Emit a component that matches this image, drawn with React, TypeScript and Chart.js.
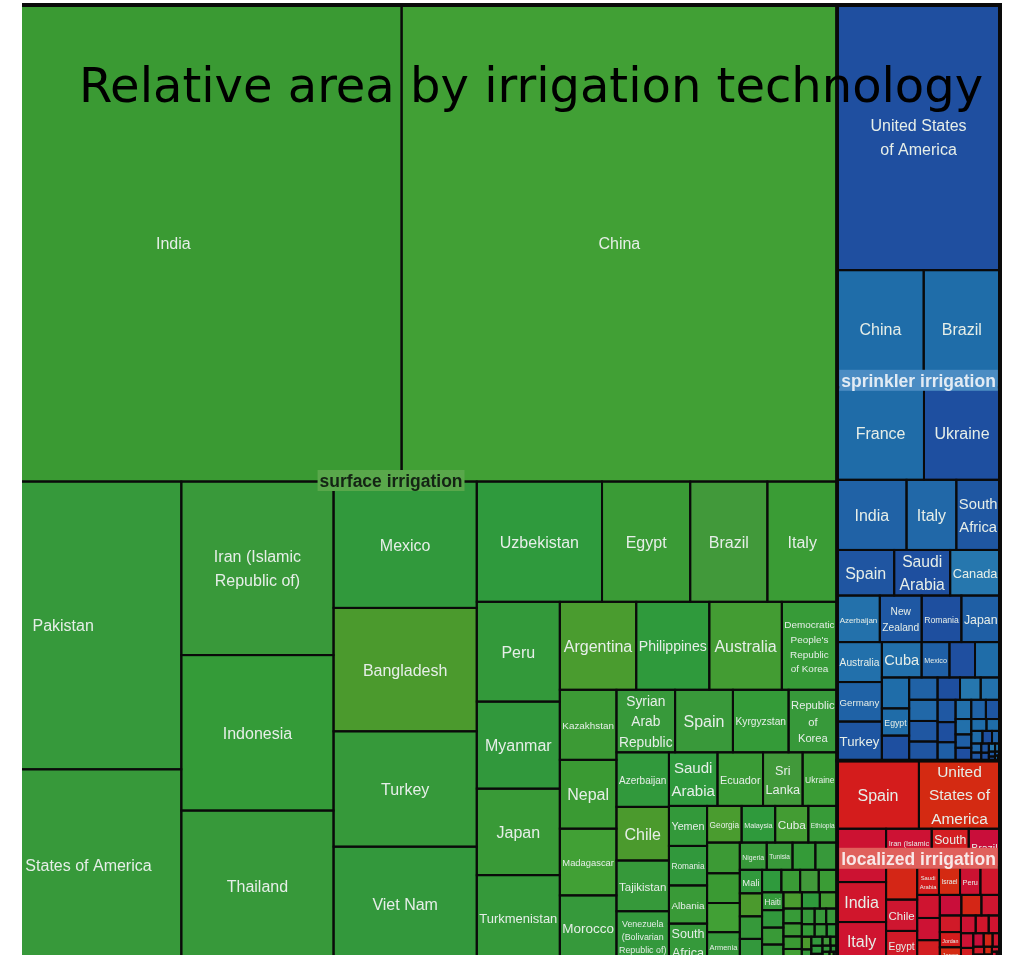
import React, { useEffect, useRef } from 'react';
import { Chart, registerables } from 'chart.js';

Chart.register(...registerables);

// ---------------- DATA ----------------
const groupNames = ['surface irrigation', 'sprinkler irrigation', 'localized irrigation'];

const surfaceCountries = [
  'India', 'China', 'Pakistan', 'United States of America', 'Iran (Islamic\nRepublic of)', 'Indonesia', 'Thailand',
  'Mexico', 'Bangladesh', 'Turkey', 'Viet Nam', 'Uzbekistan', 'Egypt', 'Brazil', 'Italy', 'Peru', 'Myanmar', 'Japan',
  'Turkmenistan', 'Argentina', 'Philippines', 'Australia', "Democratic\nPeople's\nRepublic\nof Korea", 'Kazakhstan',
  'Nepal', 'Madagascar', 'Morocco', 'Syrian\nArab\nRepublic', 'Spain', 'Kyrgyzstan', 'Republic\nof\nKorea',
  'Azerbaijan', 'Chile', 'Tajikistan', 'Venezuela\n(Bolivarian\nRepublic of)', 'Saudi\nArabia', 'Ecuador', 'Sri\nLanka',
  'Ukraine', 'Yemen', 'Romania', 'Albania', 'South\nAfrica', 'Georgia', 'Malaysia', 'Cuba', 'Ethiopia',
  'Bolivia (Plurinational State of)', 'Dominican Republic', "Lao People's Democratic Republic", 'Armenia',
  'Nigeria', 'Tunisia', 'Afghanistan', 'Suriname', 'Mali', 'Mongolia', 'Macedonia', 'Bosnia and Herzegovina',
  'Mozambique', 'Guatemala', 'Nicaragua', 'Swaziland', 'Haiti', 'Costa Rica', 'Mauritania', 'Cameroon', 'Zimbabwe',
  'Honduras', 'Burkina Faso', 'El Salvador', 'Guinea-Bissau', 'Lebanon', 'Palestine', 'Jamaica', 'Tanzania',
  'Senegal', 'Somalia', 'Uruguay', 'Colombia', 'Paraguay', 'Greece', 'Bulgaria', 'Malawi', 'Burundi', 'Rwanda',
  'Zambia', 'Gambia', 'Belize', 'Panama', 'Bhutan', 'Gabon', 'Benin', 'Togo', 'Congo',
];
const surfaceValues = [
  216600, 206600, 67700, 45100, 26300, 23560, 22800,
  18020, 17590, 16450, 16300, 15000, 10560, 9240, 8350, 8250, 7200, 7150,
  7100, 6690, 6400, 6350, 4840, 3950,
  3880, 3760, 3700, 3650, 3600, 3465, 3020,
  2850, 2800, 2650, 2600, 2590, 2430, 2110,
  1840, 1520, 1500, 1450, 1420, 1260, 1225, 1210, 1050,
  1000, 970, 950, 940,
  730, 700, 620, 590, 520, 510, 500, 490,
  430, 420, 415, 410, 380, 370, 360, 350, 300,
  290, 280, 270, 240, 230, 220, 200, 180,
  170, 160, 150, 130, 120, 110, 100, 90, 80, 70,
  60, 50, 40, 35, 30, 25, 20, 15, 10,
];

const sprinklerCountries = [
  'United States\nof America', 'China', 'Brazil', 'France', 'Ukraine', 'India', 'Italy', 'South\nAfrica', 'Spain',
  'Saudi\nArabia', 'Canada', 'Azerbaijan', 'New\nZealand', 'Romania', 'Japan', 'Australia', 'Germany', 'Turkey',
  'Cuba', 'Mexico', 'Russian Federation', 'Kazakhstan', 'Republic of Korea', 'Egypt', 'Czech Republic',
  'Netherlands', 'Switzerland', 'United Kingdom', 'Kyrgyzstan', 'Uzbekistan', 'Argentina',
  'Venezuela (Bolivarian Republic of)', 'Morocco', 'Indonesia', 'Belarus', 'Lithuania', 'Ecuador', 'Portugal',
  'Slovenia', 'Denmark', 'Hungary', 'Austria', 'Belgium', 'Croatia', 'Estonia', 'Latvia', 'Poland', 'Greece',
  'Cyprus', 'Jordan', 'Lebanon', 'Tunisia', 'Algeria', 'Senegal', 'Kenya', 'Zambia', 'Malta',
];
const sprinklerValues = [
  43000, 10100, 8900, 8000, 7000, 4850, 3480, 3050, 2590,
  2540, 2260, 1980, 1940, 1840, 1790, 1780, 1760, 1740,
  1400, 980, 900, 880, 840, 740, 680,
  630, 600, 580, 540, 500, 460,
  430, 400, 360, 330, 300, 280, 270,
  240, 210, 200, 180, 160, 140, 120, 100, 90, 80,
  70, 60, 50, 40, 30, 25, 20, 15, 10,
];

const localizedCountries = [
  'Spain', 'United\nStates of\nAmerica', 'China', 'India', 'Italy', 'Iran (Islamic\nRepublic of)', 'South\nAfrica',
  'Brazil', 'Russian Federation', 'Chile', 'Egypt', 'Saudi\nArabia', 'Israel', 'Peru', 'United Arab Emirates',
  'Republic of Korea', 'Uzbekistan', 'Argentina', 'Ukraine', 'Tunisia', 'Thailand', 'Greece', 'Jordan', 'Japan',
  'Cyprus', 'Mexico', 'Turkey', 'Malaysia', 'Algeria', 'Lebanon', 'Kenya', 'Oman', 'Zambia', 'Ecuador', 'Germany',
  'France', 'Canada', 'Colombia', 'Nepal', 'Cuba', 'Malta',
];
const localizedValues = [
  5550, 5500, 2600, 1950, 1900, 1750, 1420,
  1200, 1000, 970, 930, 600, 580, 560, 540,
  520, 500, 470, 440, 410, 380, 350, 320, 290,
  260, 230, 200, 180, 160, 140, 120, 100, 85, 70, 60,
  50, 40, 30, 20, 15, 10,
];

const chartTitle = 'Relative area by irrigation technology';

// ---------------- STYLE ----------------
const surfaceColors = [
  '#3a9a33', '#41a035', '#36993b', '#37993a', '#39993a', '#349b38', '#37993a', '#31993c', '#4b9a2d', '#36993a',
  '#33983c', '#2f9a3d', '#3a9b36', '#41993a', '#3a9c35', '#33993a', '#31983c', '#399a37', '#35993a', '#4a9c2f',
  '#2f9a3c', '#439c33', '#379b38', '#3c9a35',
];
const sprinklerColors = [
  '#1f4fa0', '#1f6da9', '#1f6da9', '#1f6ca8', '#1e4fa0', '#2062a6', '#2168a8', '#1f57a2', '#1f55a1', '#1e4f9f',
  '#2677ae', '#2371ab', '#1f58a3', '#1e4f9f', '#1f5fa5', '#2270ab', '#1f62a6', '#1e55a1', '#2270ab', '#1f5fa5',
];
const localizedColors = ['#d41c1c', '#d42a12', '#cc1232', '#d0162c', '#cf1430', '#cd1234', '#d31e22', '#c90e3a', '#d42616', '#ce1630', '#d01a28'];
const groupColors = [surfaceColors, sprinklerColors, localizedColors];
const groupLabelBg = ['#59a84b', '#4b8cc3', '#e0605c'];
const groupLabelFg = ['#142414', '#e2ebf4', '#f8e8e8'];

// treemap box: width 1 unit, height TREE_ASPECT units; visible window set by scale min/max
const TREE_ASPECT = 956 / 1055;
const X_MIN = 0.072986;
const X_MAX = 1.011375;
const Y_MIN = -0.004739;
const Y_MAX = 0.900474;
const TITLE_X = 509;
const TITLE_Y = 102;

type Rect = { x: number; y: number; w: number; h: number };

// aspect ratio of the leading (largest) rectangle of a strip laid along `side`
function leadAspect(row: number[], side: number): number {
  const s = row.reduce((a, b) => a + b, 0);
  const t = s / side;
  const l0 = row[0] / t;
  return Math.max(t / l0, l0 / t);
}

function squarify(values: number[], rect: Rect): Rect[] {
  const total = values.reduce((a, b) => a + b, 0);
  const k = (rect.w * rect.h) / total;
  const areas = values.map((v) => v * k);
  const out: Rect[] = [];
  let { x, y, w, h } = rect;
  let i = 0;
  while (i < areas.length) {
    const side = Math.min(w, h);
    let row = [areas[i]];
    let best = leadAspect(row, side);
    let j = i + 1;
    while (j < areas.length) {
      const cand = [...row, areas[j]];
      const wv = leadAspect(cand, side);
      if (wv < best) { row = cand; best = wv; j++; } else break;
    }
    const s = row.reduce((a, b) => a + b, 0);
    if (w >= h) {
      const cw = s / h;
      let cy = y;
      for (const a of row) { const ch = a / cw; out.push({ x, y: cy, w: cw, h: ch }); cy += ch; }
      x += cw; w -= cw;
    } else {
      const rh = s / w;
      let cx = x;
      for (const a of row) { const cw2 = a / rh; out.push({ x: cx, y, w: cw2, h: rh }); cx += cw2; }
      y += rh; h -= rh;
    }
    i = j;
  }
  return out;
}

const LABEL_FONT = '"Liberation Sans", Arial, sans-serif';
const BASE_FS = 16;
const MIN_FS = 5.2;

function drawCellLabel(ctx: CanvasRenderingContext2D, text: string, cx: number, cy: number, w: number, h: number) {
  const lines = text.split('\n');
  ctx.font = `${BASE_FS}px ${LABEL_FONT}`;
  const mw = Math.max(...lines.map((l) => ctx.measureText(l).width));
  const n = lines.length;
  const fs = Math.min(BASE_FS, (BASE_FS * (w - 5)) / mw, (h - 4) / (1.5 * (n - 1) + 1.15));
  if (!(fs >= MIN_FS)) return;
  ctx.font = `${fs}px ${LABEL_FONT}`;
  ctx.fillStyle = '#e6eee8';
  ctx.textAlign = 'center';
  ctx.textBaseline = 'middle';
  lines.forEach((l, i) => {
    ctx.fillText(l, cx, cy + (i - (n - 1) / 2) * 1.5 * fs + 1.5);
  });
}

const treemapPlugin = {
  id: 'treemapCells',
  afterDraw(chart: any) {
    const ctx: CanvasRenderingContext2D = chart.ctx;
    const xs = chart.scales.x;
    const ys = chart.scales.y;
    const X = (v: number) => xs.getPixelForValue(v);
    const Y = (v: number) => ys.getPixelForValue(v);
    const datasets = chart.data.datasets;
    const totals = datasets.map((d: any) => d.values.reduce((a: number, b: number) => a + b, 0));
    const groupRects = squarify(totals, { x: 0, y: 0, w: 1, h: TREE_ASPECT });
    const toPx = (r: Rect) => {
      const x0 = X(r.x), x1 = X(r.x + r.w), y0 = Y(r.y), y1 = Y(r.y + r.h);
      return { x: x0, y: y0, w: x1 - x0, h: y1 - y0 };
    };
    ctx.save();
    const cellsPx: { r: Rect; label: string }[] = [];
    datasets.forEach((d: any, gi: number) => {
      const rects = squarify(d.values, groupRects[gi]);
      const pal = groupColors[gi];
      rects.forEach((r, i) => {
        const p = toPx(r);
        ctx.fillStyle = pal[i % pal.length];
        ctx.fillRect(p.x, p.y, p.w, p.h);
        cellsPx.push({ r: p, label: d.countries[i] });
      });
    });
    ctx.strokeStyle = '#0a0a0a';
    ctx.lineWidth = 2;
    cellsPx.forEach(({ r }) => ctx.strokeRect(r.x, r.y, r.w, r.h));
    ctx.lineWidth = 3.5;
    groupRects.forEach((g) => { const p = toPx(g); ctx.strokeRect(p.x, p.y, p.w, p.h); });
    const whole = toPx({ x: 0, y: 0, w: 1, h: TREE_ASPECT });
    ctx.lineWidth = 4;
    ctx.strokeRect(whole.x, whole.y, whole.w, whole.h);
    cellsPx.forEach(({ r, label }) => drawCellLabel(ctx, label, r.x + r.w / 2, r.y + r.h / 2, r.w, r.h));
    groupRects.forEach((g, gi) => {
      const p = toPx(g);
      const cx = p.x + p.w / 2, cy = p.y + p.h / 2;
      ctx.font = `bold 17.5px ${LABEL_FONT}`;
      const tw = ctx.measureText(datasets[gi].label).width;
      ctx.fillStyle = groupLabelBg[gi];
      ctx.fillRect(cx - tw / 2 - 2, cy - 13, tw + 4, 21);
      ctx.fillStyle = groupLabelFg[gi];
      ctx.textAlign = 'center';
      ctx.textBaseline = 'middle';
      ctx.fillText(datasets[gi].label, cx, cy - 1);
    });
    ctx.font = '48px "DejaVu Sans", Verdana, sans-serif';
    ctx.fillStyle = '#000000';
    ctx.textAlign = 'center';
    ctx.textBaseline = 'alphabetic';
    ctx.fillText(chart.options.plugins.treemapCells.title, TITLE_X, TITLE_Y);
    ctx.restore();
  },
};

export default function App() {
  const ref = useRef<HTMLCanvasElement>(null);
  useEffect(() => {
    if (!ref.current) return;
    const chart = new Chart(ref.current, {
      type: 'scatter',
      data: {
        datasets: [
          { label: groupNames[0], data: [], countries: surfaceCountries, values: surfaceValues } as any,
          { label: groupNames[1], data: [], countries: sprinklerCountries, values: sprinklerValues } as any,
          { label: groupNames[2], data: [], countries: localizedCountries, values: localizedValues } as any,
        ],
      },
      options: {
        animation: false,
        responsive: true,
        maintainAspectRatio: false,
        layout: { padding: 0 },
        events: [],
        plugins: {
          legend: { display: false },
          tooltip: { enabled: false },
          title: { display: false },
          treemapCells: { title: chartTitle },
        } as any,
        scales: {
          x: { type: 'linear', display: false, min: X_MIN, max: X_MAX },
          y: { type: 'linear', display: false, reverse: true, min: Y_MIN, max: Y_MAX },
        },
      },
      plugins: [treemapPlugin],
    });
    return () => chart.destroy();
  }, []);
  return (
    <div style={{ position: 'fixed', left: 22, top: 0, width: 990, height: 955, background: '#ffffff' }}>
      <canvas ref={ref} />
    </div>
  );
}
